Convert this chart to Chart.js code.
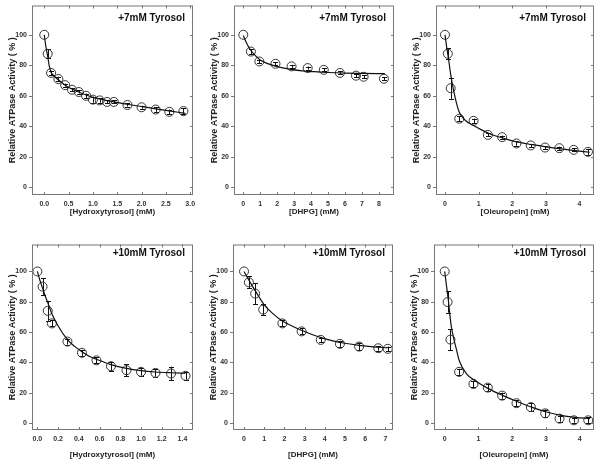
<!DOCTYPE html>
<html><head><meta charset="utf-8">
<script src="https://cdn.jsdelivr.net/npm/chart.js@4/dist/chart.umd.min.js"></script>
<style>
html,body{margin:0;padding:0;background:#fff;}
#wrap{position:relative;width:604px;height:467px;overflow:hidden;background:#fff;}
canvas{position:absolute;}
</style></head><body><div id="wrap"></div>
<script>
// ---------- DATA ----------
const yTicks = [0, 20, 40, 60, 80, 100];

// +7mM Tyrosol, Hydroxytyrosol
const hxt7Ticks = [0, 0.5, 1.0, 1.5, 2.0, 2.5, 3.0];
const hxt7X = [0, 0.07, 0.14, 0.29, 0.43, 0.57, 0.71, 0.86, 1.0, 1.14, 1.29, 1.43, 1.71, 2.0, 2.29, 2.57, 2.86];
const hxt7Y = [100, 87.5, 75, 71, 67, 64, 62.5, 60, 57.5, 57, 56, 56, 54, 52.5, 51, 49.5, 50];
const hxt7Err = [0, 3, 1.5, 1.5, 1, 1, 1, 1.5, 2, 1.5, 1, 1, 1, 1, 1.5, 1.5, 2];
const hxt7FitX = [0, 0.03, 0.07, 0.1, 0.14, 0.2, 0.29, 0.43, 0.57, 0.71, 0.86, 1.0, 1.2, 1.43, 1.7, 2.0, 2.3, 2.6, 2.9];
const hxt7FitY = [100, 93, 86, 80, 75.5, 73, 70.5, 67, 64.5, 62.5, 60.5, 59, 57.5, 56, 54.5, 53, 51.5, 50, 48.5];

// +7mM Tyrosol, DHPG
const dhpg7Ticks = [0, 1, 2, 3, 4, 5, 6, 7, 8];
const dhpg7X = [0, 0.45, 0.95, 1.9, 2.85, 3.8, 4.75, 5.7, 6.65, 7.1, 8.3];
const dhpg7Y = [100, 89, 82.5, 81, 79.3, 78.2, 77, 75, 73.2, 72.5, 71.2];
const dhpg7Err = [0, 1.5, 1, 1, 1, 1, 1, 1, 1, 1, 1];
const dhpg7FitX = [0, 0.2, 0.4, 0.7, 1.0, 1.4, 1.9, 2.4, 2.9, 3.5, 4.2, 5.0, 6.0, 7.0, 8.35];
const dhpg7FitY = [99.5, 94.5, 90.5, 86.5, 83.5, 81.3, 79.5, 78.2, 77.2, 76.4, 75.8, 75.3, 74.9, 74.7, 74.5];

// +7mM Tyrosol, Oleuropein
const ole7Ticks = [0, 1, 2, 3, 4];
const ole7X = [0, 0.085, 0.17, 0.425, 0.85, 1.275, 1.7, 2.125, 2.55, 2.975, 3.4, 3.825, 4.25];
const ole7Y = [100, 87.6, 65, 45, 43.6, 34.4, 32.9, 28.8, 27.5, 26.1, 25.7, 24.6, 23.3];
const ole7Err = [0, 3.5, 7, 1.5, 1.5, 1, 1, 1.5, 1, 1, 1, 1, 2];
const ole7FitX = [0, 0.05, 0.1, 0.15, 0.2, 0.3, 0.42, 0.6, 0.85, 1.1, 1.4, 1.7, 2.1, 2.6, 3.0, 3.4, 3.8, 4.3];
const ole7FitY = [100, 92, 85, 77, 70, 59, 49.5, 44, 40.5, 37.5, 34.5, 32.5, 30, 28, 26.6, 25.4, 24.3, 23];

// +10mM Tyrosol, Hydroxytyrosol
const hxt10Ticks = [0, 0.2, 0.4, 0.6, 0.8, 1.0, 1.2, 1.4];
const hxt10X = [0, 0.05, 0.1, 0.14, 0.29, 0.43, 0.57, 0.71, 0.86, 1.0, 1.14, 1.29, 1.43];
const hxt10Y = [100, 90, 74, 65.7, 53.7, 46.3, 41.3, 37.4, 34.8, 33.7, 33, 32.6, 31.1];
const hxt10Err = [0, 5.5, 6.5, 2, 2, 2, 2, 3, 4, 2.5, 2.5, 4.5, 2.5];
const hxt10FitX = [0, 0.025, 0.05, 0.075, 0.1, 0.14, 0.2, 0.29, 0.36, 0.43, 0.5, 0.57, 0.71, 0.86, 1.0, 1.14, 1.29, 1.43];
const hxt10FitY = [100, 94, 89, 84, 79.5, 72, 64, 55, 50.5, 47, 44, 42, 38.5, 36, 34.5, 33.6, 33.1, 32.8];

// +10mM Tyrosol, DHPG
const dhpg10Ticks = [0, 1, 2, 3, 4, 5, 6, 7];
const dhpg10X = [0, 0.24, 0.55, 0.95, 1.9, 2.85, 3.8, 4.75, 5.7, 6.65, 7.12];
const dhpg10Y = [100, 92.8, 85.4, 74.8, 65.7, 60.4, 54.8, 52.2, 50.4, 49.3, 48.9];
const dhpg10Err = [0, 4, 7, 3.5, 2, 2, 1.5, 2, 2.5, 1.5, 1.5];
const dhpg10FitX = [0, 0.25, 0.5, 0.75, 1.0, 1.4, 1.9, 2.4, 2.9, 3.4, 3.9, 4.4, 5.0, 5.7, 6.4, 7.12];
const dhpg10FitY = [100, 94, 88.5, 83, 78, 72.5, 67.3, 63.8, 60.8, 58.2, 56, 54.2, 52.6, 51.2, 50.2, 49.6];

// +10mM Tyrosol, Oleuropein
const ole10Ticks = [0, 1, 2, 3, 4];
const ole10X = [0, 0.085, 0.17, 0.425, 0.85, 1.275, 1.7, 2.125, 2.55, 2.975, 3.4, 3.825, 4.25];
const ole10Y = [100, 79.8, 55, 33.7, 25.7, 23.3, 18, 13, 10.4, 6.3, 2.8, 1.7, 1.7];
const ole10Err = [0, 7, 7, 2, 2, 2.5, 2, 2, 2.5, 2.5, 2, 1.5, 2];
const ole10FitX = [0, 0.05, 0.1, 0.15, 0.2, 0.27, 0.33, 0.44, 0.64, 0.87, 1.28, 1.73, 2.14, 2.59, 3.01, 3.44, 3.85, 4.3];
const ole10FitY = [100, 91, 82.5, 72, 63, 55.5, 50, 40.5, 32.6, 28.3, 22.8, 18, 14.1, 10.2, 7.2, 5, 3.7, 2.8];

const xTitles = ['[Hydroxytyrosol] (mM)', '[DHPG] (mM)', '[Oleuropein] (mM)'];
const yTitle = 'Relative ATPase Activity ( % )';
const panelLabels = ['+7mM Tyrosol', '+10mM Tyrosol'];

// ---------- LAYOUT ----------
const FONT = 'Arial, "Liberation Sans", Helvetica, sans-serif';
const panels = [
  {box:[32,4,193,195],   xmin:-0.252, xmax:3.057, ymin:-5, ymax:119.2, ticks:hxt7Ticks,  dec:1, xt:xTitles[0], lab:panelLabels[0], X:hxt7X,  Y:hxt7Y,  E:hxt7Err,  FX:hxt7FitX,  FY:hxt7FitY,  xh:25, tpb:3, ldy:15},
  {box:[234,4,394,195],  xmin:-0.547, xmax:8.894, ymin:-5, ymax:119.2, ticks:dhpg7Ticks, dec:0, xt:xTitles[1], lab:panelLabels[0], X:dhpg7X, Y:dhpg7Y, E:dhpg7Err, FX:dhpg7FitX, FY:dhpg7FitY, xh:25, tpb:3, ldy:15},
  {box:[436,4,594,195],  xmin:-0.267, xmax:4.43,  ymin:-5, ymax:119.2, ticks:ole7Ticks,  dec:0, xt:xTitles[2], lab:panelLabels[0], X:ole7X,  Y:ole7Y,  E:ole7Err,  FX:ole7FitX,  FY:ole7FitY,  xh:25, tpb:3, ldy:15},
  {box:[32,243,193,430], xmin:-0.052, xmax:1.502, ymin:-4.7, ymax:117.8, ticks:hxt10Ticks, dec:1, xt:xTitles[0], lab:panelLabels[1], X:hxt10X, Y:hxt10Y, E:hxt10Err, FX:hxt10FitX, FY:hxt10FitY, xh:32, tpb:2, ldy:11},
  {box:[233,243,393,430],xmin:-0.547, xmax:7.38,  ymin:-4.7, ymax:117.8, ticks:dhpg10Ticks,dec:0, xt:xTitles[1], lab:panelLabels[1], X:dhpg10X,Y:dhpg10Y,E:dhpg10Err,FX:dhpg10FitX,FY:dhpg10FitY,xh:32, tpb:2, ldy:11},
  {box:[434,243,594,430],xmin:-0.317, xmax:4.42,  ymin:-4.7, ymax:117.8, ticks:ole10Ticks, dec:0, xt:xTitles[2], lab:panelLabels[1], X:ole10X, Y:ole10Y, E:ole10Err, FX:ole10FitX, FY:ole10FitY, xh:32, tpb:2, ldy:11}
];

const framePlugin = {
  id: 'frame',
  afterDraw(chart, args, o) {
    const {ctx, chartArea: a, scales: {x, y}} = chart;
    ctx.save();
    ctx.strokeStyle = '#777';
    ctx.lineWidth = 1;
    ctx.strokeRect(a.left + 0.5, a.top + 0.5, a.right - a.left - 1, a.bottom - a.top - 1);
    ctx.beginPath();
    x.ticks.forEach(t => {
      const px = Math.round(x.getPixelForValue(t.value)) + 0.5;
      ctx.moveTo(px, a.bottom); ctx.lineTo(px, a.bottom - 3);
      ctx.moveTo(px, a.top); ctx.lineTo(px, a.top + 3);
    });
    y.ticks.forEach(t => {
      const py = Math.round(y.getPixelForValue(t.value)) + 0.5;
      ctx.moveTo(a.left - 3, py); ctx.lineTo(a.left, py);
      ctx.moveTo(a.right, py); ctx.lineTo(a.right - 3, py);
    });
    ctx.stroke();
    ctx.fillStyle = '#111';
    ctx.font = 'bold 10px ' + FONT;
    ctx.textAlign = 'right';
    ctx.textBaseline = 'alphabetic';
    ctx.fillText(o.text, a.right - 8, a.top + o.dy);
    ctx.restore();
  }
};

const errPlugin = {
  id: 'errbars',
  beforeDatasetsDraw(chart, args, o) {
    const {ctx, scales: {x, y}} = chart;
    ctx.save();
    ctx.strokeStyle = '#111';
    ctx.lineWidth = 1;
    ctx.beginPath();
    o.X.forEach((xv, i) => {
      const e = o.E[i];
      if (!e) return;
      const px = Math.round(x.getPixelForValue(xv)) + 0.5;
      const y1 = y.getPixelForValue(o.Y[i] + e), y2 = y.getPixelForValue(o.Y[i] - e);
      ctx.moveTo(px, y1); ctx.lineTo(px, y2);
      ctx.moveTo(px - 2.5, Math.round(y1) + 0.5); ctx.lineTo(px + 2.5, Math.round(y1) + 0.5);
      ctx.moveTo(px - 2.5, Math.round(y2) + 0.5); ctx.lineTo(px + 2.5, Math.round(y2) + 0.5);
    });
    ctx.stroke();
    ctx.restore();
  }
};

const wrap = document.getElementById('wrap');
panels.forEach(p => {
  const padL = 32, padT = 4, padR = 6;
  const W = (p.box[2] - p.box[0]) + padL + padR;
  const H = (p.box[3] - p.box[1]) + padT + p.xh;
  const cv = document.createElement('canvas');
  cv.width = W; cv.height = H;
  cv.style.left = (p.box[0] - padL) + 'px';
  cv.style.top = (p.box[1] - padT) + 'px';
  cv.style.width = W + 'px'; cv.style.height = H + 'px';
  wrap.appendChild(cv);
  new Chart(cv.getContext('2d'), {
    type: 'scatter',
    data: {
      datasets: [
        { data: p.FX.map((v, i) => ({x: v, y: p.FY[i]})), showLine: true, borderColor: '#111', borderWidth: 1.2,
          pointRadius: 0, tension: 0.4, cubicInterpolationMode: 'monotone', fill: false },
        { data: p.X.map((v, i) => ({x: v, y: p.Y[i]})), showLine: false, pointRadius: 4.5,
          pointBorderColor: '#333', pointBackgroundColor: 'rgba(0,0,0,0)', pointBorderWidth: 1 }
      ]
    },
    options: {
      responsive: false, animation: false, devicePixelRatio: 1,
      layout: {padding: {left: 0, top: padT, right: padR, bottom: 0}},
      plugins: {
        legend: {display: false}, tooltip: {enabled: false},
        frame: {text: p.lab, dy: p.ldy},
        errbars: {X: p.X, Y: p.Y, E: p.E}
      },
      scales: {
        x: {
          type: 'linear', min: p.xmin, max: p.xmax,
          afterBuildTicks: s => { s.ticks = p.ticks.map(v => ({value: v})); },
          afterFit: s => { s.height = p.xh; s.paddingLeft = 0; s.paddingRight = 0; },
          grid: {display: false, drawTicks: false}, border: {display: false},
          ticks: {padding: 5, autoSkip: false, maxRotation: 0, color: '#333',
                  font: {size: 7, weight: 'bold', family: FONT},
                  callback: v => Number(v).toFixed(p.dec)},
          title: {display: true, text: p.xt, color: '#222', font: {size: 8, weight: 'bold', family: FONT},
                  padding: {top: 0, bottom: p.tpb}}
        },
        y: {
          type: 'linear', min: p.ymin, max: p.ymax,
          afterBuildTicks: s => { s.ticks = yTicks.map(v => ({value: v})); },
          afterFit: s => { s.width = padL; s.paddingTop = 0; s.paddingBottom = 0; },
          grid: {display: false, drawTicks: false}, border: {display: false},
          ticks: {padding: 5, color: '#333', font: {size: 7, weight: 'bold', family: FONT},
                  callback: v => String(v)},
          title: {display: true, text: yTitle, color: '#222', font: {size: 9, weight: 'bold', family: FONT},
                  padding: {top: 7.5, bottom: 0}}
        }
      }
    },
    plugins: [framePlugin, errPlugin]
  });
});
</script>
</body></html>
